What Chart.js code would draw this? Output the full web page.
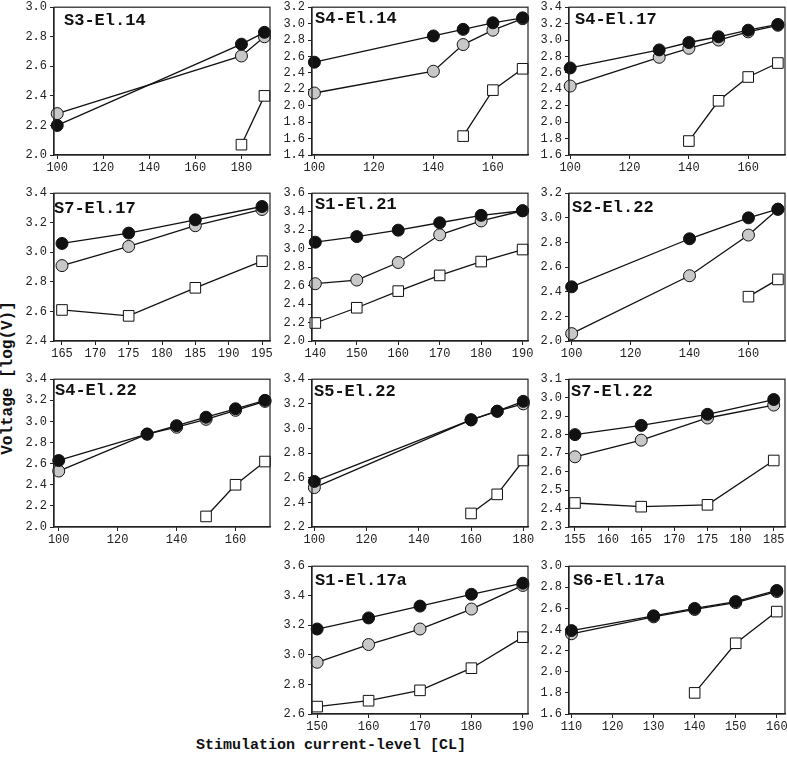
<!DOCTYPE html>
<html>
<head>
<meta charset="utf-8">
<script src="https://cdn.jsdelivr.net/npm/chart.js@4/dist/chart.umd.min.js"></script>
<style>
  body { margin: 0; background: #fff; width: 787px; height: 760px; position: relative; overflow: hidden; font-family: "Liberation Mono", monospace; }
  .panel { position: absolute; }
  #ytitle { position: absolute; left: 8px; top: 378px; transform: translate(-50%, -50%) rotate(-90deg); font-weight: bold; font-size: 16px; color: #111; white-space: nowrap; }
  #xtitle { position: absolute; left: 331px; top: 745px; transform: translate(-50%, -50%); font-weight: bold; font-size: 15px; color: #111; white-space: nowrap; }
</style>
</head>
<body>
<div id="ytitle">Voltage [log(V)]</div>
<div id="xtitle">Stimulation current-level [CL]</div>
<script>
// --- data: current level (CL) and log voltage per electrode ---
// black = filled circles, gray = gray circles, sq = open squares
var s3e14_cl = [100, 180, 190];
var s3e14_black = [2.20, 2.75, 2.83];
var s3e14_gray = [2.28, 2.67, 2.80];
var s3e14_sqCl = [180, 190];
var s3e14_sq = [2.07, 2.40];

var s4e14_cl = [100, 140, 150, 160, 170];
var s4e14_black = [2.53, 2.85, 2.93, 3.01, 3.07];
var s4e14_gray = [2.155, 2.42, 2.745, 2.92, 3.06];
var s4e14_sqCl = [150, 160, 170];
var s4e14_sq = [1.63, 2.19, 2.45];

var s4e17_cl = [100, 130, 140, 150, 160, 170];
var s4e17_black = [2.66, 2.88, 2.97, 3.04, 3.12, 3.19];
var s4e17_gray = [2.44, 2.79, 2.90, 3.00, 3.10, 3.18];
var s4e17_sqCl = [140, 150, 160, 170];
var s4e17_sq = [1.77, 2.26, 2.55, 2.72];

var s7e17_cl = [165, 175, 185, 195];
var s7e17_black = [3.06, 3.13, 3.22, 3.31];
var s7e17_gray = [2.91, 3.04, 3.18, 3.29];
var s7e17_sqCl = [165, 175, 185, 195];
var s7e17_sq = [2.61, 2.57, 2.76, 2.94];

var s1e21_cl = [140, 150, 160, 170, 180, 190];
var s1e21_black = [3.07, 3.13, 3.20, 3.28, 3.36, 3.41];
var s1e21_gray = [2.62, 2.66, 2.85, 3.15, 3.30, 3.41];
var s1e21_sqCl = [140, 150, 160, 170, 180, 190];
var s1e21_sq = [2.195, 2.36, 2.54, 2.71, 2.86, 2.99];

var s2e22_cl = [100, 140, 160, 170];
var s2e22_black = [2.44, 2.83, 3.00, 3.07];
var s2e22_gray = [2.06, 2.53, 2.86, 3.07];
var s2e22_sqCl = [160, 170];
var s2e22_sq = [2.36, 2.50];

var s4e22_cl = [100, 130, 140, 150, 160, 170];
var s4e22_black = [2.63, 2.88, 2.96, 3.04, 3.12, 3.20];
var s4e22_gray = [2.53, 2.88, 2.945, 3.02, 3.105, 3.19];
var s4e22_sqCl = [150, 160, 170];
var s4e22_sq = [2.10, 2.40, 2.62];

var s5e22_cl = [100, 160, 170, 180];
var s5e22_black = [2.57, 3.07, 3.14, 3.22];
var s5e22_gray = [2.52, 3.07, 3.14, 3.20];
var s5e22_sqCl = [160, 170, 180];
var s5e22_sq = [2.31, 2.465, 2.74];

var s7e22_cl = [155, 165, 175, 185];
var s7e22_black = [2.80, 2.85, 2.91, 2.99];
var s7e22_gray = [2.68, 2.77, 2.89, 2.96];
var s7e22_sqCl = [155, 165, 175, 185];
var s7e22_sq = [2.43, 2.41, 2.42, 2.66];

var s1e17a_cl = [150, 160, 170, 180, 190];
var s1e17a_black = [3.175, 3.25, 3.33, 3.41, 3.485];
var s1e17a_gray = [2.95, 3.07, 3.175, 3.31, 3.47];
var s1e17a_sqCl = [150, 160, 170, 180, 190];
var s1e17a_sq = [2.65, 2.69, 2.76, 2.91, 3.12];

var s6e17a_cl = [110, 130, 140, 150, 160];
var s6e17a_black = [2.39, 2.53, 2.60, 2.665, 2.77];
var s6e17a_gray = [2.36, 2.52, 2.59, 2.655, 2.76];
var s6e17a_sqCl = [140, 150, 160];
var s6e17a_sq = [1.80, 2.27, 2.57];

// --- tick labels ---
var xt20 = [100, 120, 140, 160, 180];
var xt20b = [100, 120, 140, 160];
var xtS7e17 = [165, 170, 175, 180, 185, 190, 195];
var xtS1e21 = [140, 150, 160, 170, 180, 190];
var xtS7e22 = [155, 160, 165, 170, 175, 180, 185];
var xtS1e17a = [150, 160, 170, 180, 190];
var xtS6e17a = [110, 120, 130, 140, 150, 160];

var ytS3e14 = [2.0, 2.2, 2.4, 2.6, 2.8, 3.0];
var ytS4e14 = [1.4, 1.6, 1.8, 2.0, 2.2, 2.4, 2.6, 2.8, 3.0, 3.2];
var ytS4e17 = [1.6, 1.8, 2.0, 2.2, 2.4, 2.6, 2.8, 3.0, 3.2, 3.4];
var ytS7e17 = [2.4, 2.6, 2.8, 3.0, 3.2, 3.4];
var ytS1e21 = [2.0, 2.2, 2.4, 2.6, 2.8, 3.0, 3.2, 3.4, 3.6];
var ytS2e22 = [2.0, 2.2, 2.4, 2.6, 2.8, 3.0, 3.2];
var ytS4e22 = [2.0, 2.2, 2.4, 2.6, 2.8, 3.0, 3.2, 3.4];
var ytS5e22 = [2.2, 2.4, 2.6, 2.8, 3.0, 3.2, 3.4];
var ytS7e22 = [2.3, 2.4, 2.5, 2.6, 2.7, 2.8, 2.9, 3.0, 3.1];
var ytS1e17a = [2.6, 2.8, 3.0, 3.2, 3.4, 3.6];
var ytS6e17a = [1.6, 1.8, 2.0, 2.2, 2.4, 2.6, 2.8, 3.0];

// panels: name, data, ticks, x range, grid cell, title offset
var panels = [
  { name: 'S3-El.14', cl: s3e14_cl, black: s3e14_black, gray: s3e14_gray, sqCl: s3e14_sqCl, sq: s3e14_sq, xt: xt20, yt: ytS3e14, xmin: 98.6, xmax: 192.4, col: 0, row: 0, dx: 10, dy: 14 },
  { name: 'S4-El.14', cl: s4e14_cl, black: s4e14_black, gray: s4e14_gray, sqCl: s4e14_sqCl, sq: s4e14_sq, xt: xt20b, yt: ytS4e14, xmin: 99.2, xmax: 171.8, col: 1, row: 0, dx: 3, dy: 12 },
  { name: 'S4-El.17', cl: s4e17_cl, black: s4e17_black, gray: s4e17_gray, sqCl: s4e17_sqCl, sq: s4e17_sq, xt: xt20b, yt: ytS4e17, xmin: 99.6, xmax: 172.4, col: 2, row: 0, dx: 6, dy: 13 },
  { name: 'S7-El.17', cl: s7e17_cl, black: s7e17_black, gray: s7e17_gray, sqCl: s7e17_sqCl, sq: s7e17_sq, xt: xtS7e17, yt: ytS7e17, xmin: 163.8, xmax: 196.2, col: 0, row: 1, dx: 0, dy: 16 },
  { name: 'S1-El.21', cl: s1e21_cl, black: s1e21_black, gray: s1e21_gray, sqCl: s1e21_sqCl, sq: s1e21_sq, xt: xtS1e21, yt: ytS1e21, xmin: 139.2, xmax: 191.3, col: 1, row: 1, dx: 3, dy: 12 },
  { name: 'S2-El.22', cl: s2e22_cl, black: s2e22_black, gray: s2e22_gray, sqCl: s2e22_sqCl, sq: s2e22_sq, xt: xt20b, yt: ytS2e22, xmin: 99.1, xmax: 172.4, col: 2, row: 1, dx: 3, dy: 15 },
  { name: 'S4-El.22', cl: s4e22_cl, black: s4e22_black, gray: s4e22_gray, sqCl: s4e22_sqCl, sq: s4e22_sq, xt: xt20b, yt: ytS4e22, xmin: 98.4, xmax: 171.7, col: 0, row: 2, dx: 1, dy: 12 },
  { name: 'S5-El.22', cl: s5e22_cl, black: s5e22_black, gray: s5e22_gray, sqCl: s5e22_sqCl, sq: s5e22_sq, xt: xt20, yt: ytS5e22, xmin: 99.1, xmax: 181.8, col: 1, row: 2, dx: 2, dy: 13 },
  { name: 'S7-El.22', cl: s7e22_cl, black: s7e22_black, gray: s7e22_gray, sqCl: s7e22_sqCl, sq: s7e22_sq, xt: xtS7e22, yt: ytS7e22, xmin: 154.1, xmax: 186.7, col: 2, row: 2, dx: 2, dy: 13 },
  { name: 'S1-El.17a', cl: s1e17a_cl, black: s1e17a_black, gray: s1e17a_gray, sqCl: s1e17a_sqCl, sq: s1e17a_sq, xt: xtS1e17a, yt: ytS1e17a, xmin: 149, xmax: 191, col: 1, row: 3, dx: 3, dy: 15 },
  { name: 'S6-El.17a', cl: s6e17a_cl, black: s6e17a_black, gray: s6e17a_gray, sqCl: s6e17a_sqCl, sq: s6e17a_sq, xt: xtS6e17a, yt: ytS6e17a, xmin: 109.4, xmax: 162, col: 2, row: 3, dx: 4, dy: 15 }
];

var colLeft = [54, 312, 569];
var rowTop = [4.5, 190.5, 377, 563.5];
var plotW = 216, plotH = 150;
var axW = 50, axH = 22, padTop = 8, padRight = 14;

var framePlugin = {
  id: 'frame',
  beforeDatasetsDraw: function(chart, args, opts) {
    var a = chart.chartArea, c = chart.ctx;
    c.save();
    c.font = 'bold 17px "Liberation Mono"';
    c.fillStyle = '#111';
    c.textBaseline = 'middle';
    c.fillText(opts.text, a.left + opts.dx, a.top + opts.dy);
    c.restore();
  },
  afterDraw: function(chart) {
    var a = chart.chartArea, c = chart.ctx;
    c.save();
    c.strokeStyle = '#222';
    c.lineWidth = 1.2;
    c.strokeRect(a.left, a.top, a.right - a.left, a.bottom - a.top);
    c.restore();
  }
};

function pts(xs, ys) {
  return xs.map(function(x, i) { return { x: x, y: ys[i] }; });
}

function series(data, fill, style, radius) {
  return {
    data: data,
    showLine: true,
    borderColor: '#111',
    borderWidth: 1.3,
    pointStyle: style,
    pointRadius: radius,
    pointBackgroundColor: fill,
    pointBorderColor: '#111',
    pointBorderWidth: 1,
    clip: false
  };
}

panels.forEach(function(p) {
  var div = document.createElement('div');
  div.className = 'panel';
  div.style.left = (colLeft[p.col] - axW) + 'px';
  div.style.top = (rowTop[p.row] - padTop) + 'px';
  var cv = document.createElement('canvas');
  cv.width = axW + plotW + padRight;
  cv.height = padTop + plotH + axH;
  div.appendChild(cv);
  document.body.appendChild(div);

  new Chart(cv.getContext('2d'), {
    type: 'scatter',
    data: {
      datasets: [
        series(pts(p.cl, p.black), '#111', 'circle', 6),
        series(pts(p.cl, p.gray), '#c8c8c8', 'circle', 6),
        series(pts(p.sqCl, p.sq), '#fff', 'rect', 7.5)
      ]
    },
    options: {
      responsive: false,
      animation: false,
      layout: { padding: { top: padTop, right: padRight, left: 0, bottom: 0 } },
      plugins: {
        legend: { display: false },
        tooltip: { enabled: false },
        frame: { text: p.name, dx: p.dx, dy: p.dy }
      },
      scales: {
        x: {
          type: 'linear',
          min: p.xmin,
          max: p.xmax,
          afterBuildTicks: function(s) { s.ticks = p.xt.map(function(v) { return { value: v }; }); },
          afterFit: function(s) { s.height = axH; },
          grid: { drawOnChartArea: false, tickLength: 4, color: '#222' },
          border: { color: '#222', width: 1.2 },
          ticks: { autoSkip: false, maxRotation: 0, padding: 2, color: '#222', font: { family: 'Liberation Mono', size: 12 } }
        },
        y: {
          min: p.yt[0],
          max: p.yt[p.yt.length - 1],
          afterBuildTicks: function(s) { s.ticks = p.yt.map(function(v) { return { value: v }; }); },
          afterFit: function(s) { s.width = axW; },
          grid: { drawOnChartArea: false, tickLength: 4, color: '#222' },
          border: { color: '#222', width: 1.2 },
          ticks: { autoSkip: false, padding: 3, color: '#222', font: { family: 'Liberation Mono', size: 12 }, callback: function(v) { return v.toFixed(1); } }
        }
      }
    },
    plugins: [framePlugin]
  });
});
</script>
</body>
</html>
